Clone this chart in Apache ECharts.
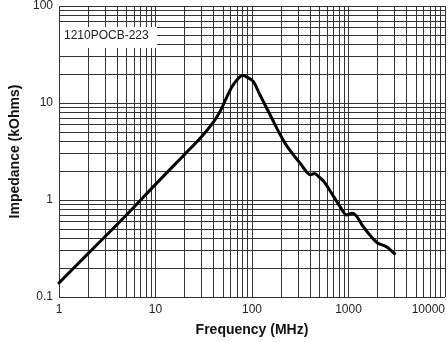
<!DOCTYPE html>
<html>
<head>
<meta charset="utf-8">
<script src="https://cdn.jsdelivr.net/npm/echarts@6/dist/echarts.min.js"></script>
<style>
  html, body { margin: 0; padding: 0; background: #fff; }
  #chart { width: 448px; height: 342px; }
</style>
</head>
<body>
<div id="chart"></div>
<script>
// impedance curve
const freqMHz = [1, 2, 5, 10, 20, 30, 40, 47, 53, 62, 72, 80, 88, 103, 120, 140, 160, 192, 234, 320, 405, 446, 494, 557, 700, 820, 960, 1090, 1200, 1420, 1750, 2000, 2470, 3000]
const impedanceK = [0.14, 0.28, 0.70, 1.45, 2.95, 4.5, 6.4, 8.3, 10.7, 14.7, 17.9, 19.2, 18.6, 16.7, 12.3, 9.1, 7.0, 4.9, 3.5, 2.35, 1.82, 1.88, 1.73, 1.55, 1.09, 0.85, 0.70, 0.73, 0.69, 0.53, 0.41, 0.36, 0.33, 0.28]

const xDecades = [1, 10, 100, 1000, 10000]
const yDecades = [0.1, 1, 10, 100]
const partLabel = '1210POCB-223'

// grid lines at 1..9 of every decade
const gridX = []
xDecades.slice(0, -1).forEach(d => { for (let k = 1; k <= 9; k++) gridX.push(d * k) })
gridX.push(10000)
const gridY = []
yDecades.slice(0, -1).forEach(d => { for (let k = 1; k <= 9; k++) gridY.push(+(d * k).toPrecision(3)) })
gridY.push(100)

const chart = echarts.init(document.getElementById('chart'))
const font = '"Liberation Sans", Arial, sans-serif'
const lineCol = '#333'

const option = {
  animation: false,
  grid: { left: 55, right: 2, top: 6, bottom: 44.5, containLabel: false },
  xAxis: {
    type: 'log',
    logBase: 10,
    min: 1,
    max: 10000,
    name: 'Frequency (MHz)',
    nameLocation: 'middle',
    nameGap: 26,
    nameTextStyle: { fontFamily: font, fontSize: 14, fontWeight: 'bold', color: '#111' },
    axisLine: { show: false },
    axisTick: { show: false },
    splitLine: { show: false },
    axisLabel: {
      fontFamily: font, fontSize: 12, color: '#222', margin: 7,
      alignMaxLabel: 'right',
      formatter: v => String(v)
    }
  },
  yAxis: {
    type: 'log',
    logBase: 10,
    min: 0.1,
    max: 100,
    name: 'Impedance (kOhms)',
    nameLocation: 'middle',
    nameGap: 37,
    nameTextStyle: { fontFamily: font, fontSize: 14, fontWeight: 'bold', color: '#111' },
    axisLine: { show: false },
    axisTick: { show: false },
    splitLine: { show: false },
    axisLabel: {
      fontFamily: font, fontSize: 12, color: '#222', margin: 6,
      formatter: v => String(+v.toPrecision(3))
    }
  },
  graphic: [
    { type: 'rect', left: 60, top: 27, z: 100, zlevel: 1, shape: { width: 97, height: 21 }, style: { fill: '#fff' } },
    { type: 'text', left: 64, top: 30, z: 101, zlevel: 1, style: { text: partLabel, fontFamily: font, fontSize: 12, fill: '#222' } }
  ],
  series: [
    {
      type: 'line',
      data: [],
      silent: true,
      markLine: {
        silent: true,
        symbol: 'none',
        animation: false,
        label: { show: false },
        lineStyle: { color: lineCol, width: 1, type: 'solid' },
        data: gridX.map(v => ({ xAxis: v })).concat(gridY.map(v => ({ yAxis: v })))
      }
    },
    {
      type: 'line',
      data: freqMHz.map((f, i) => [f, impedanceK[i]]),
      showSymbol: false,
      smooth: 0.3,
      z: 10,
      lineStyle: { color: '#000', width: 3, cap: 'round', join: 'round' }
    }
  ]
}

chart.setOption(option)
</script>
</body>
</html>
